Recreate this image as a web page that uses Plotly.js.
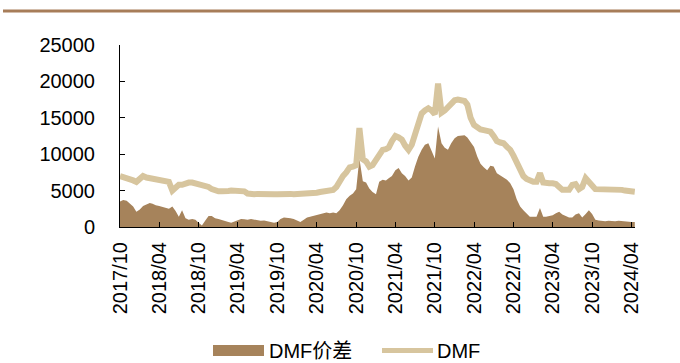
<!DOCTYPE html>
<html>
<head>
<meta charset="utf-8">
<script src="https://cdn.plot.ly/plotly-3.0.1.min.js"></script>
<style>
  html, body { margin: 0; padding: 0; background: #ffffff; }
  #chart { width: 680px; height: 363px; }
</style>
</head>
<body>
<div id="chart"></div>
<script>
// Semi-monthly observations (1st and 16th of each month), 2017-10 to 2024-04, unit: yuan/ton
var startYear = 2017, startMonth = 10, endYear = 2024, endMonth = 4;

// DMF price
var dmfPrice = [
  7000, 6900, 6800, 6700, 6400, 6200, 6600, 7000, 6800, 6700,
  6600, 6600, 6500, 6400, 6300, 6200, 5000, 5400, 5800, 5800,
  6000, 6100, 6100, 6000, 5700, 5600, 5600, 5500, 5200, 5000,
  4900, 4900, 4850, 4950, 5000, 5000, 4900, 4950, 4900, 4600,
  4500, 4500, 4550, 4500, 4500, 4550, 4500, 4500, 4500, 4550,
  4500, 4500, 4550, 4500, 4500, 4500, 4550, 4500, 4550, 4600,
  4700, 4800, 4850, 4850, 4900, 5100, 5500, 6300, 7000, 7500,
  8200, 8300, 8500, 13600, 9300, 9000, 8300, 8500, 9300, 10200,
  10600, 10700, 10900, 11800, 12500, 12300, 12000, 11200, 10600, 11300,
  12600, 14000, 15600, 16000, 16300, 16000, 15500, 19700, 15700, 16000,
  16500, 17000, 17400, 17500, 17300, 17300, 16800, 15000, 14000, 13600,
  13400, 13300, 13300, 13100, 12500, 11800, 11600, 11500, 11000, 10600,
  9800, 8900, 7800, 7000, 6600, 6300, 6200, 6200, 7400, 6100,
  6000, 6000, 6000, 5900, 5500, 5100, 5100, 5100, 5800, 5900,
  5200, 5500, 6700, 6300, 5700, 5200, 5200, 5300, 5200, 5100,
  5100, 5100, 5100, 5100, 5000, 5000, 4900, 4850
];

// DMF price spread
var dmfSpread = [
  3500, 3700, 3600, 3200, 2800, 2100, 2400, 2900, 3100, 3300,
  3200, 3000, 2900, 2800, 2600, 2500, 2800, 2200, 1400, 2300,
  1200, 1000, 1100, 1000, 600, 200, 900, 1500, 1500, 1200,
  1100, 1000, 900, 700, 600, 800, 1000, 1100, 1050, 1000,
  1100, 1050, 900, 850, 900, 800, 700, 600, 700, 1100,
  1300, 1300, 1200, 1100, 900, 700, 1000, 1300, 1400, 1500,
  1600, 1800, 1900, 2000, 1900, 2000, 1900, 2300, 3000, 3800,
  4300, 4600, 5200, 9400, 6300, 6100, 5300, 4800, 4500, 6200,
  6500, 6400, 6700, 7000, 7800, 8100, 7400, 7000, 6400, 6800,
  8300, 9600, 10600, 11300, 11500, 10500, 9400, 13800, 11500, 10900,
  10600, 11500, 12200, 12500, 12600, 12600, 12300, 11600, 11000, 9700,
  8700, 8200, 7800, 8400, 8300, 7400, 7100, 6900, 6500, 6000,
  5200, 3800, 2800, 2300, 1800, 1400, 1400, 1400, 2600, 1400,
  1400, 1500, 1600, 1900, 2100, 1700, 1500, 1300, 1300, 1700,
  1900, 1300, 1800, 2300, 1800, 1000, 900, 800, 800, 850,
  800, 800, 850, 800, 750, 700, 700, 700
];

// Axis ticks every six months
var tickDates = [
  '2017-10-01', '2018-04-01', '2018-10-01', '2019-04-01', '2019-10-01',
  '2020-04-01', '2020-10-01', '2021-04-01', '2021-10-01', '2022-04-01',
  '2022-10-01', '2023-04-01', '2023-10-01', '2024-04-01'
];
var tickLabels = [
  '2017/10', '2018/04', '2018/10', '2019/04', '2019/10',
  '2020/04', '2020/10', '2021/04', '2021/10', '2022/04',
  '2022/10', '2023/04', '2023/10', '2024/04'
];
var yTicks = [0, 5000, 10000, 15000, 20000, 25000];

var seriesNames = ['DMF价差', 'DMF'];

// Build the semi-monthly date axis
var dates = [];
(function () {
  var y = startYear, m = startMonth;
  while (y < endYear || (y === endYear && m <= endMonth)) {
    var mm = (m < 10 ? '0' : '') + m;
    dates.push(y + '-' + mm + '-01');
    dates.push(y + '-' + mm + '-16');
    m += 1;
    if (m > 12) { m = 1; y += 1; }
  }
})();

var brown = '#a6835b';
var beige = '#d7c59e';
var fontFamily = '"Liberation Sans", Arial, "Noto Sans CJK SC", sans-serif';

var traces = [
  {
    type: 'scatter',
    mode: 'lines',
    name: seriesNames[0],
    x: dates,
    y: dmfSpread,
    fill: 'tozeroy',
    fillcolor: brown,
    line: { width: 0, color: brown },
    showlegend: false,
    hoverinfo: 'x+y'
  },
  {
    type: 'scatter',
    mode: 'lines',
    name: seriesNames[1],
    x: dates,
    y: dmfPrice,
    line: { width: 6, color: beige },
    showlegend: false,
    hoverinfo: 'x+y'
  }
];

// Paper-coordinate helpers for the legend and the header rule
var L = 120, R = 635, T = 45, B = 227;
function px(x) { return (x - L) / (R - L); }
function py(y) { return (B - y) / (B - T); }

var layout = {
  width: 680,
  height: 363,
  margin: { l: L, r: 680 - R, t: T, b: 363 - B, pad: 0 },
  paper_bgcolor: '#ffffff',
  plot_bgcolor: '#ffffff',
  font: { family: fontFamily, size: 20, color: '#000000' },
  showlegend: false,
  xaxis: {
    type: 'date',
    range: ['2017-10-01', '2024-04-17'],
    tickmode: 'array',
    tickvals: tickDates,
    ticktext: tickLabels,
    tickangle: -90,
    ticks: 'inside',
    ticklen: 5,
    tickcolor: '#000000',
    tickwidth: 1,
    showline: true,
    linecolor: '#000000',
    linewidth: 1,
    showgrid: false,
    zeroline: false,
    ticklabelstandoff: 6,
    tickfont: { family: fontFamily, size: 20, color: '#000000' }
  },
  yaxis: {
    range: [0, 25000],
    tickmode: 'array',
    tickvals: yTicks,
    ticktext: yTicks.map(String),
    ticks: 'inside',
    ticklen: 5,
    tickcolor: '#000000',
    tickwidth: 1,
    showline: true,
    linecolor: '#000000',
    linewidth: 1,
    showgrid: false,
    zeroline: false,
    ticklabelstandoff: 20,
    tickfont: { family: fontFamily, size: 20, color: '#000000' }
  },
  shapes: [
    // header rule
    { type: 'line', xref: 'paper', yref: 'paper',
      x0: px(3), x1: px(680), y0: py(11), y1: py(11),
      line: { color: '#a77d59', width: 3 } },
    // legend swatch: spread
    { type: 'rect', xref: 'paper', yref: 'paper',
      x0: px(213), x1: px(264), y0: py(356), y1: py(345),
      fillcolor: brown, line: { width: 0 } },
    // legend swatch: price
    { type: 'line', xref: 'paper', yref: 'paper',
      x0: px(382), x1: px(433), y0: py(350.5), y1: py(350.5),
      line: { color: beige, width: 5 } }
  ],
  annotations: [
    { xref: 'paper', yref: 'paper', x: px(267), y: py(350.5),
      xanchor: 'left', yanchor: 'middle', showarrow: false,
      text: seriesNames[0], font: { family: fontFamily, size: 20, color: '#000000' } },
    { xref: 'paper', yref: 'paper', x: px(435), y: py(350.5),
      xanchor: 'left', yanchor: 'middle', showarrow: false,
      text: seriesNames[1], font: { family: fontFamily, size: 20, color: '#000000' } }
  ]
};

Plotly.newPlot('chart', traces, layout, { displayModeBar: false, staticPlot: true });
</script>
</body>
</html>
